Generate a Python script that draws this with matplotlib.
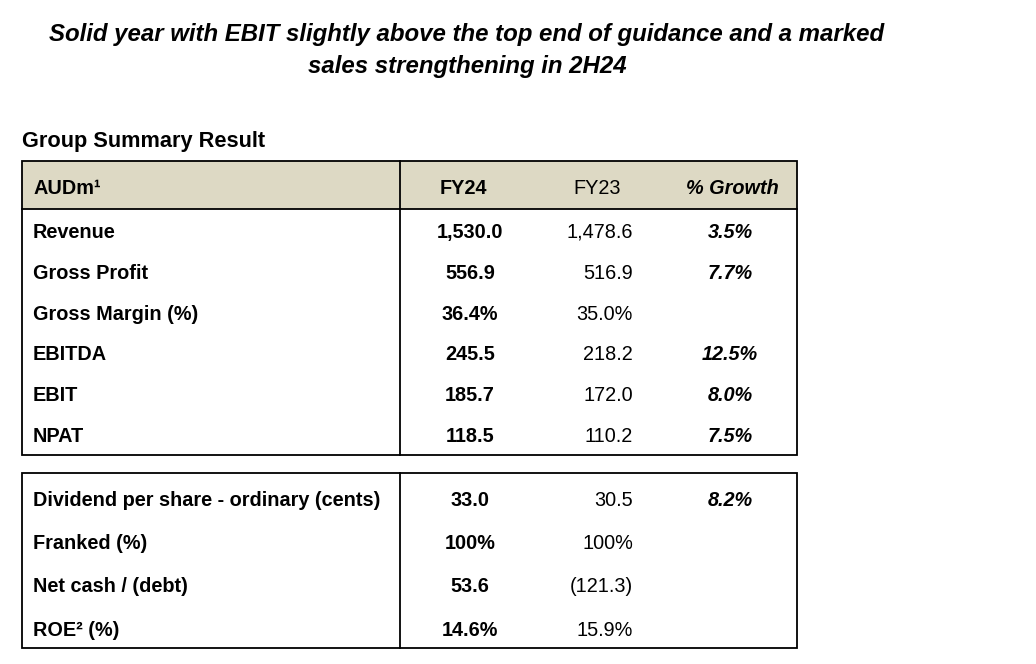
import matplotlib
matplotlib.use("Agg")
import matplotlib.pyplot as plt
from matplotlib.patches import Rectangle

plt.rcParams['font.family'] = ['Liberation Sans', 'DejaVu Sans']

title_lines = ["Solid year with EBIT slightly above the top end of guidance and a marked",
               "sales strengthening in 2H24"]
section_title = "Group Summary Result"
header = ["AUDm¹", "FY24", "FY23", "% Growth"]

rows1 = ["Revenue", "Gross Profit", "Gross Margin (%)", "EBITDA", "EBIT", "NPAT"]
fy24_1 = ["1,530.0", "556.9", "36.4%", "245.5", "185.7", "118.5"]
fy23_1 = ["1,478.6", "516.9", "35.0%", "218.2", "172.0", "110.2"]
growth_1 = ["3.5%", "7.7%", "", "12.5%", "8.0%", "7.5%"]

rows2 = ["Dividend per share - ordinary (cents)", "Franked (%)", "Net cash / (debt)", "ROE² (%)"]
fy24_2 = ["33.0", "100%", "53.6", "14.6%"]
fy23_2 = ["30.5", "100%", "(121.3)", "15.9%"]
growth_2 = ["8.2%", "", "", ""]

W, H = 1036, 664
fig = plt.figure(figsize=(W / 100, H / 100), dpi=100)
ax = fig.add_axes([0, 0, 1, 1])
ax.set_xlim(0, W)
ax.set_ylim(H, 0)
ax.axis('off')

# layout
x_left, x_div, x_right = 22, 400, 797
x_label = 33
x_fy24 = 470
x_fy23_right = 633
x_growth = 730
hdr_fill = '#DDD9C4'
lw = 1.3
fs = 14.3

# titles
ax.text(467, 41, title_lines[0], ha='center', va='baseline', fontsize=17.3,
        fontweight='bold', fontstyle='italic')
ax.text(467, 73, title_lines[1], ha='center', va='baseline', fontsize=17.3,
        fontweight='bold', fontstyle='italic')
ax.text(22, 147, section_title, ha='left', va='baseline', fontsize=15.7, fontweight='bold')

# table 1
t1_top, t1_hdr_bot, t1_bot = 161, 209, 455
ax.add_patch(Rectangle((x_left, t1_top), x_right - x_left, t1_hdr_bot - t1_top,
                       facecolor=hdr_fill, edgecolor='none', zorder=0))
ax.add_patch(Rectangle((x_left, t1_top), x_right - x_left, t1_bot - t1_top,
                       facecolor='none', edgecolor='black', lw=lw, zorder=2))
ax.plot([x_left, x_right], [t1_hdr_bot, t1_hdr_bot], color='black', lw=lw, zorder=2)
ax.plot([x_div, x_div], [t1_top, t1_bot], color='black', lw=lw, zorder=2)

hy = 194
ax.text(x_label, hy, header[0], ha='left', va='baseline', fontsize=fs, fontweight='bold')
ax.text(463, hy, header[1], ha='center', va='baseline', fontsize=fs, fontweight='bold')
ax.text(597, hy, header[2], ha='center', va='baseline', fontsize=fs)
ax.text(732, hy, header[3], ha='center', va='baseline', fontsize=fs,
        fontweight='bold', fontstyle='italic')


def draw_rows(ys, labels, a_vals, b_vals, g_vals):
    for y, lab, a, b, g in zip(ys, labels, a_vals, b_vals, g_vals):
        ax.text(x_label, y, lab, ha='left', va='baseline', fontsize=fs, fontweight='bold')
        ax.text(x_fy24, y, a, ha='center', va='baseline', fontsize=fs, fontweight='bold')
        ax.text(x_fy23_right, y, b, ha='right', va='baseline', fontsize=fs)
        if g:
            ax.text(x_growth, y, g, ha='center', va='baseline', fontsize=fs,
                    fontweight='bold', fontstyle='italic')


draw_rows([238, 279, 320, 360, 401, 442], rows1, fy24_1, fy23_1, growth_1)

# table 2
t2_top, t2_bot = 473, 648
ax.add_patch(Rectangle((x_left, t2_top), x_right - x_left, t2_bot - t2_top,
                       facecolor='none', edgecolor='black', lw=lw, zorder=2))
ax.plot([x_div, x_div], [t2_top, t2_bot], color='black', lw=lw, zorder=2)

draw_rows([506, 549, 592, 636], rows2, fy24_2, fy23_2, growth_2)

fig.savefig("out.png", dpi=100, facecolor='white')
